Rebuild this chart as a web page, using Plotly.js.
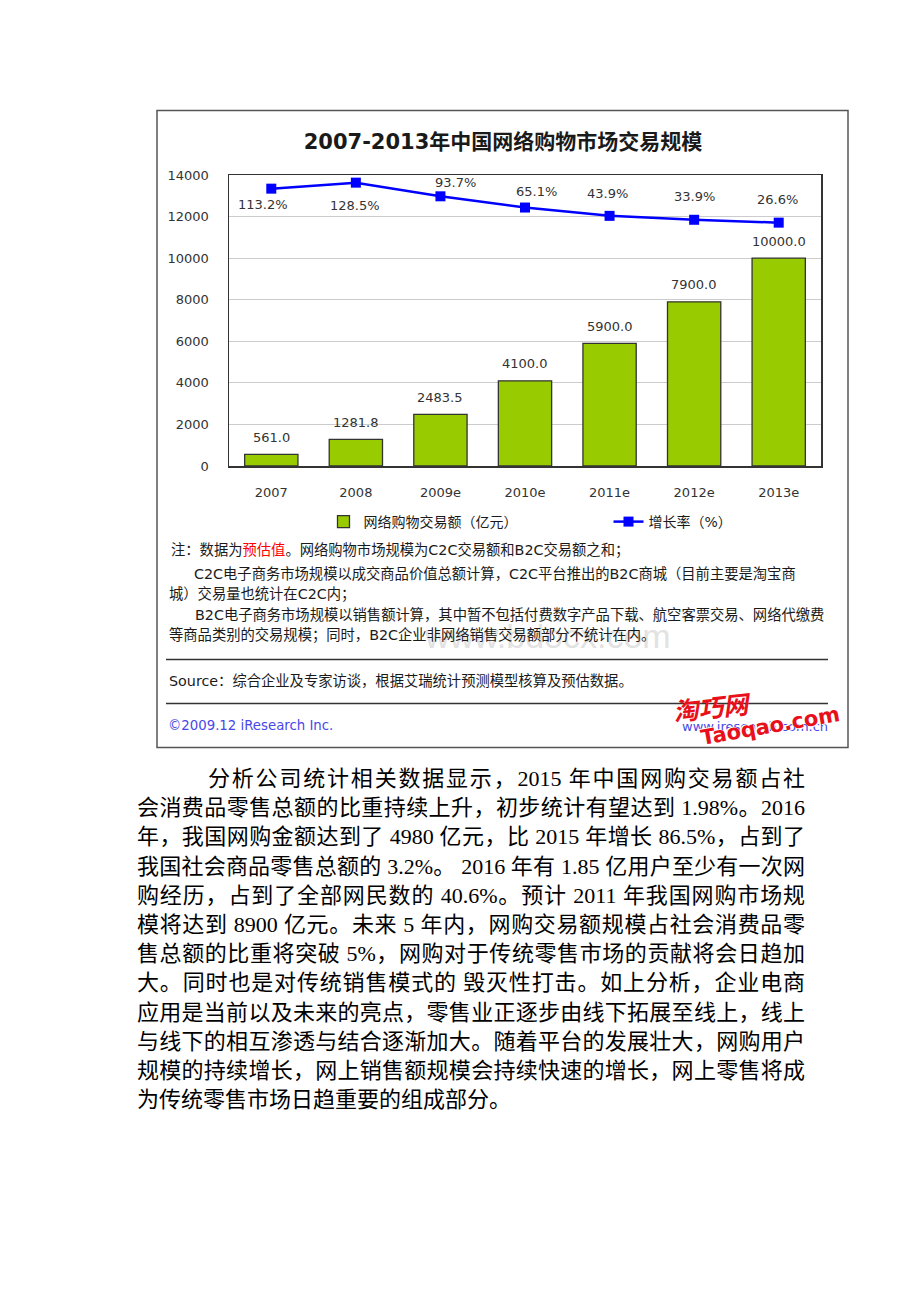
<!DOCTYPE html>
<html>
<head>
<meta charset="utf-8">
<script src="https://cdn.plot.ly/plotly-3.0.1.min.js"></script>
<style>
  html, body { margin: 0; padding: 0; background: #ffffff; }
  #page { position: relative; width: 920px; height: 1302px; overflow: hidden; }
  #chart { position: absolute; left: 0; top: 0; width: 920px; height: 760px; }
  .pline {
    position: absolute; left: 137px; width: 668px; height: 29px;
    font-family: "Liberation Serif", "Noto Sans CJK SC", serif;
    font-size: 22px; line-height: 29px; color: #000;
    text-align: justify; text-align-last: justify; white-space: nowrap;
  }
  .pline.first { left: 208px; width: 597px; }
  .pline.last { text-align-last: left; }
</style>
</head>
<body>
<div id="page">
  <div id="chart"></div>
  <div id="para"></div>
</div>
<script>
// ---------------- data ----------------
const years = ["2007", "2008", "2009e", "2010e", "2011e", "2012e", "2013e"];
const tradeVolume = [561.0, 1281.8, 2483.5, 4100.0, 5900.0, 7900.0, 10000.0];   // 亿元
const growthRate = [113.2, 128.5, 93.7, 65.1, 43.9, 33.9, 26.6];                // %
const seriesNames = ["网络购物交易额（亿元）", "增长率（%）"];
const chartTitle = "2007-2013年中国网络购物市场交易规模";
const yTicks = [0, 2000, 4000, 6000, 8000, 10000, 12000, 14000];

const noteLines = [
  "注：数据为<span style=\"color:#ff0000\">预估值</span>。网络购物市场规模为C2C交易额和B2C交易额之和；",
  "C2C电子商务市场规模以成交商品价值总额计算，C2C平台推出的B2C商城（目前主要是淘宝商",
  "城）交易量也统计在C2C内；",
  "B2C电子商务市场规模以销售额计算，其中暂不包括付费数字产品下载、航空客票交易、网络代缴费",
  "等商品类别的交易规模；同时，B2C企业非网络销售交易额部分不统计在内。"
];
const sourceText = "Source：综合企业及专家访谈，根据艾瑞统计预测模型核算及预估数据。";
const copyrightText = "©2009.12 iResearch Inc.";
const siteText = "www.iresearch.com.cn";

const paragraph = [
  "分析公司统计相关数据显示，2015 年中国网购交易额占社",
  "会消费品零售总额的比重持续上升，初步统计有望达到 1.98%。2016",
  "年，我国网购金额达到了 4980 亿元，比 2015 年增长 86.5%，占到了",
  "我国社会商品零售总额的 3.2%。 2016 年有 1.85 亿用户至少有一次网",
  "购经历，占到了全部网民数的 40.6%。预计 2011 年我国网购市场规",
  "模将达到 8900 亿元。未来 5 年内，网购交易额规模占社会消费品零",
  "售总额的比重将突破 5%，网购对于传统零售市场的贡献将会日趋加",
  "大。同时也是对传统销售模式的 毁灭性打击。如上分析，企业电商",
  "应用是当前以及未来的亮点，零售业正逐步由线下拓展至线上，线上",
  "与线下的相互渗透与结合逐渐加大。随着平台的发展壮大，网购用户",
  "规模的持续增长，网上销售额规模会持续快速的增长，网上零售将成",
  "为传统零售市场日趋重要的组成部分。"
];

// ---------------- style / layout helpers ----------------
const W = 920, H = 760;
const PL = 229, PR = 821, PT = 175, PB = 466;
const X = px => (px - PL) / (PR - PL);
const Y = py => (PB - py) / (PB - PT);
const LATIN = '"DejaVu Sans", "Noto Sans CJK SC", sans-serif';
const BAR_COLOR = "#99cc00";
const LINE_COLOR = "#0000ff";
// label offsets (pixels) for the growth-rate labels, relative to each marker
const rateLabelDx = [-8, -1, 15, 11, -2, 0, -1];
const rateLabelDy = [-16, -23, 14, 16, 22, 23, 23];

const traces = [
  {
    type: "bar", name: seriesNames[0], x: years, y: tradeVolume,
    marker: { color: BAR_COLOR, line: { color: "#333333", width: 1.3 } },
    hoverinfo: "x+y"
  },
  {
    type: "scatter", mode: "lines+markers", name: seriesNames[1], x: years, y: growthRate,
    yaxis: "y2",
    line: { color: LINE_COLOR, width: 2.5 },
    marker: { symbol: "square", size: 10, color: LINE_COLOR },
    hoverinfo: "x+y"
  }
];

const annotations = [];
// on a category axis, annotation x is the category's serial number
tradeVolume.forEach((v, i) => {
  annotations.push({
    x: i, y: v, xref: "x", yref: "y", text: v.toFixed(1),
    showarrow: false, yanchor: "middle", yshift: 17,
    font: { family: LATIN, size: 13, color: "#333333" }
  });
});
growthRate.forEach((v, i) => {
  annotations.push({
    x: i, y: v, xref: "x", yref: "y2", text: v.toFixed(1) + "%",
    showarrow: false, yanchor: "middle", xshift: rateLabelDx[i], yshift: rateLabelDy[i],
    font: { family: LATIN, size: 13, color: "#333333" }
  });
});

// watermark (behind the notes)
annotations.push({
  xref: "paper", yref: "paper", x: X(547), y: Y(636), xanchor: "center", yanchor: "middle",
  text: "www.bdocx.com", showarrow: false,
  font: { family: "Liberation Sans, Arial, sans-serif", size: 34, color: "#e2e2e2" }
});

// notes
const noteX = [169, 192, 167, 193, 167];
const noteY = [550, 573, 594, 614, 635];
noteLines.forEach((t, i) => {
  annotations.push({
    xref: "paper", yref: "paper", x: X(noteX[i]), y: Y(noteY[i]),
    xanchor: "left", yanchor: "middle", text: t, showarrow: false,
    font: { family: LATIN, size: 14.3, color: "#1a1a1a" }
  });
});
annotations.push({
  xref: "paper", yref: "paper", x: X(167), y: Y(680), xanchor: "left", yanchor: "middle",
  text: sourceText, showarrow: false,
  font: { family: LATIN, size: 14.3, color: "#1a1a1a" }
});
annotations.push({
  xref: "paper", yref: "paper", x: X(166), y: Y(725), xanchor: "left", yanchor: "middle",
  text: copyrightText, showarrow: false,
  font: { family: LATIN, size: 13.3, color: "#4848e8" }
});
annotations.push({
  xref: "paper", yref: "paper", x: X(830), y: Y(726), xanchor: "right", yanchor: "middle",
  text: siteText, showarrow: false,
  font: { family: LATIN, size: 13, color: "#4848e8" }
});
// site logo overlay
annotations.push({
  xref: "paper", yref: "paper", x: X(712), y: Y(706), xanchor: "center", yanchor: "middle",
  text: "<b><i>淘巧网</i></b>", showarrow: false, textangle: -6,
  font: { family: '"Noto Sans CJK SC", sans-serif', size: 25, color: "#e8101a" }
});
annotations.push({
  xref: "paper", yref: "paper", x: X(770), y: Y(726), xanchor: "center", yanchor: "middle",
  text: "<b>Taoqao.com</b>", showarrow: false, textangle: -10,
  font: { family: LATIN, size: 21, color: "#e8101a", shadow: "1px 1px 0px #ffffff, -1px -1px 0px #ffffff" }
});

const shapes = [
  { type: "rect", xref: "paper", yref: "paper", x0: X(157), x1: X(848), y0: Y(110.5), y1: Y(747.5),
    line: { color: "#555555", width: 1.5 }, fillcolor: "rgba(0,0,0,0)", layer: "below" },
  { type: "line", xref: "paper", yref: "paper", x0: X(166), x1: X(828), y0: Y(659.5), y1: Y(659.5),
    line: { color: "#333333", width: 1.3 } },
  { type: "line", xref: "paper", yref: "paper", x0: X(166), x1: X(828), y0: Y(703.5), y1: Y(703.5),
    line: { color: "#333333", width: 1.3 } }
];

const layout = {
  width: W, height: H,
  margin: { l: PL, r: W - PR, t: PT, b: H - PB, pad: 0 },
  paper_bgcolor: "#ffffff", plot_bgcolor: "#ffffff",
  title: {
    text: chartTitle, x: X(503), xref: "paper", xanchor: "center",
    y: 1 - 142 / H, yref: "container", yanchor: "middle",
    font: { family: LATIN, size: 21, weight: 700, color: "#1a1a1a" }
  },
  bargap: 0.37,
  showlegend: true,
  legend: {
    orientation: "h", x: X(323.5), xanchor: "left", y: Y(522), yanchor: "middle",
    entrywidth: 240, bgcolor: "rgba(0,0,0,0)",
    font: { family: LATIN, size: 14, color: "#1a1a1a" }, traceorder: "normal"
  },
  xaxis: {
    type: "category", range: [-0.5, years.length - 0.5], autorange: false,
    showline: true, mirror: true, linecolor: "#333333", linewidth: 1.5,
    ticks: "", ticklabelstandoff: 14, showgrid: false,
    tickfont: { family: LATIN, size: 13, color: "#333333" }, fixedrange: true
  },
  yaxis: {
    range: [0, 14000], autorange: false, tickvals: yTicks, ticktext: yTicks.map(String),
    showline: true, mirror: true, linecolor: "#333333", linewidth: 1.5,
    showgrid: true, gridcolor: "#cccccc", gridwidth: 1.2, zeroline: false,
    ticks: "", ticklabelstandoff: 16,
    tickfont: { family: LATIN, size: 13, color: "#333333" }, fixedrange: true
  },
  yaxis2: {
    overlaying: "y", side: "right", range: [-593.4, 148], autorange: false, visible: false,
    showgrid: false, zeroline: false, fixedrange: true
  },
  annotations: annotations,
  shapes: shapes
};

Plotly.newPlot("chart", traces, layout, { displayModeBar: false, staticPlot: true });

// paragraph below the chart
const para = document.getElementById("para");
const lineTop0 = 764, lineStep = 29.2;
paragraph.forEach((t, i) => {
  const d = document.createElement("div");
  d.className = "pline" + (i === 0 ? " first" : "") + (i === paragraph.length - 1 ? " last" : "");
  d.style.top = (lineTop0 + i * lineStep) + "px";
  d.textContent = t;
  para.appendChild(d);
});
</script>
</body>
</html>
